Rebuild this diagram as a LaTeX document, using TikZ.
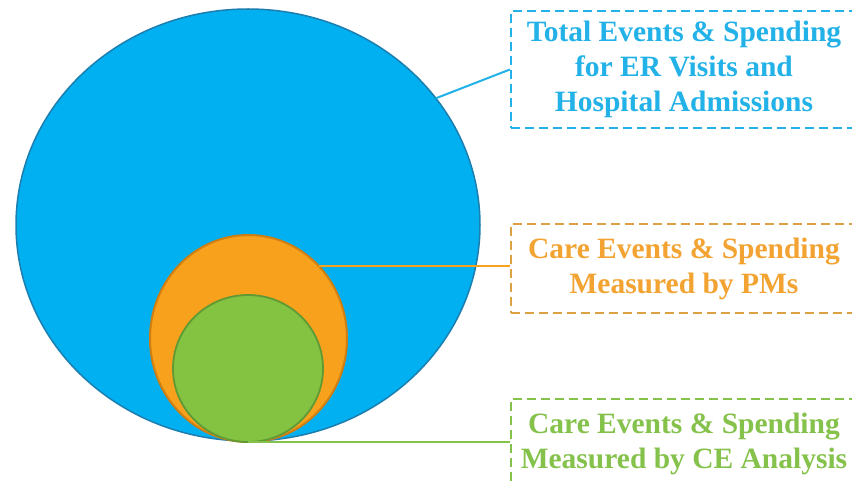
\documentclass[tikz,border=0pt]{standalone}
\usepackage{fontspec}
\setmainfont{Liberation Serif}
\usetikzlibrary{shapes.geometric}
\definecolor{bluefill}{HTML}{00B0F0}
\definecolor{blueedge}{HTML}{1C7FB0}
\definecolor{bluetext}{HTML}{22B2E8}
\definecolor{orangefill}{HTML}{F8A11C}
\definecolor{orangeedge}{HTML}{CF7E12}
\definecolor{orangetext}{HTML}{F2A331}
\definecolor{orangedash}{HTML}{DDA145}
\definecolor{greenfill}{HTML}{83C341}
\definecolor{greenedge}{HTML}{5F9A35}
\definecolor{greentext}{HTML}{85C24B}
\tikzset{
  blob/.style={ellipse, inner sep=0pt, outer sep=0pt, line width=1.5pt},
  labelbox/.style={rectangle, dashed, dash pattern=on 9pt off 5pt, line width=2.2pt,
    minimum width=346pt, align=center, inner sep=0pt,
    font=\fontsize{29.5}{35}\selectfont\bfseries},
  leader/.style={line width=2pt}
}
\begin{document}
\begin{tikzpicture}[x=1pt,y=-1pt]
\clip (0,0) rectangle (852,481);
\fill[white] (0,0) rectangle (852,481);
\node[blob, fill=bluefill, draw=blueedge, minimum width=464pt, minimum height=432pt] (big) at (248,225) {};
\node[blob, fill=orangefill, draw=orangeedge, line width=2pt, minimum width=197pt, minimum height=207pt] (orange) at (248.5,338.5) {};
\node[blob, fill=greenfill, draw=greenedge, line width=1.8pt, minimum width=150pt, minimum height=147pt] (green) at (248,368.5) {};
\node[labelbox, draw=bluetext, text=bluetext, minimum height=117pt] (totbox) at (684,69.5)
  {Total Events \& Spending\\for ER Visits and\\Hospital Admissions};
\node[labelbox, draw=orangedash, text=orangetext, minimum height=89pt] (pmbox) at (684,268.5)
  {Care Events \& Spending\\Measured by PMs};
\node[labelbox, draw=greentext, text=greentext, minimum height=89pt] (cebox) at (684,443.5)
  {Care Events \& Spending\\Measured by CE Analysis};
\draw[leader, draw=bluetext] (big.34) -- (totbox.west);
\draw[leader, draw=orangefill] (orange.46) -- (orange.46 -| pmbox.west);
\draw[leader, draw=greentext] (green.south) -- (green.south -| cebox.west);
\end{tikzpicture}
\end{document}
